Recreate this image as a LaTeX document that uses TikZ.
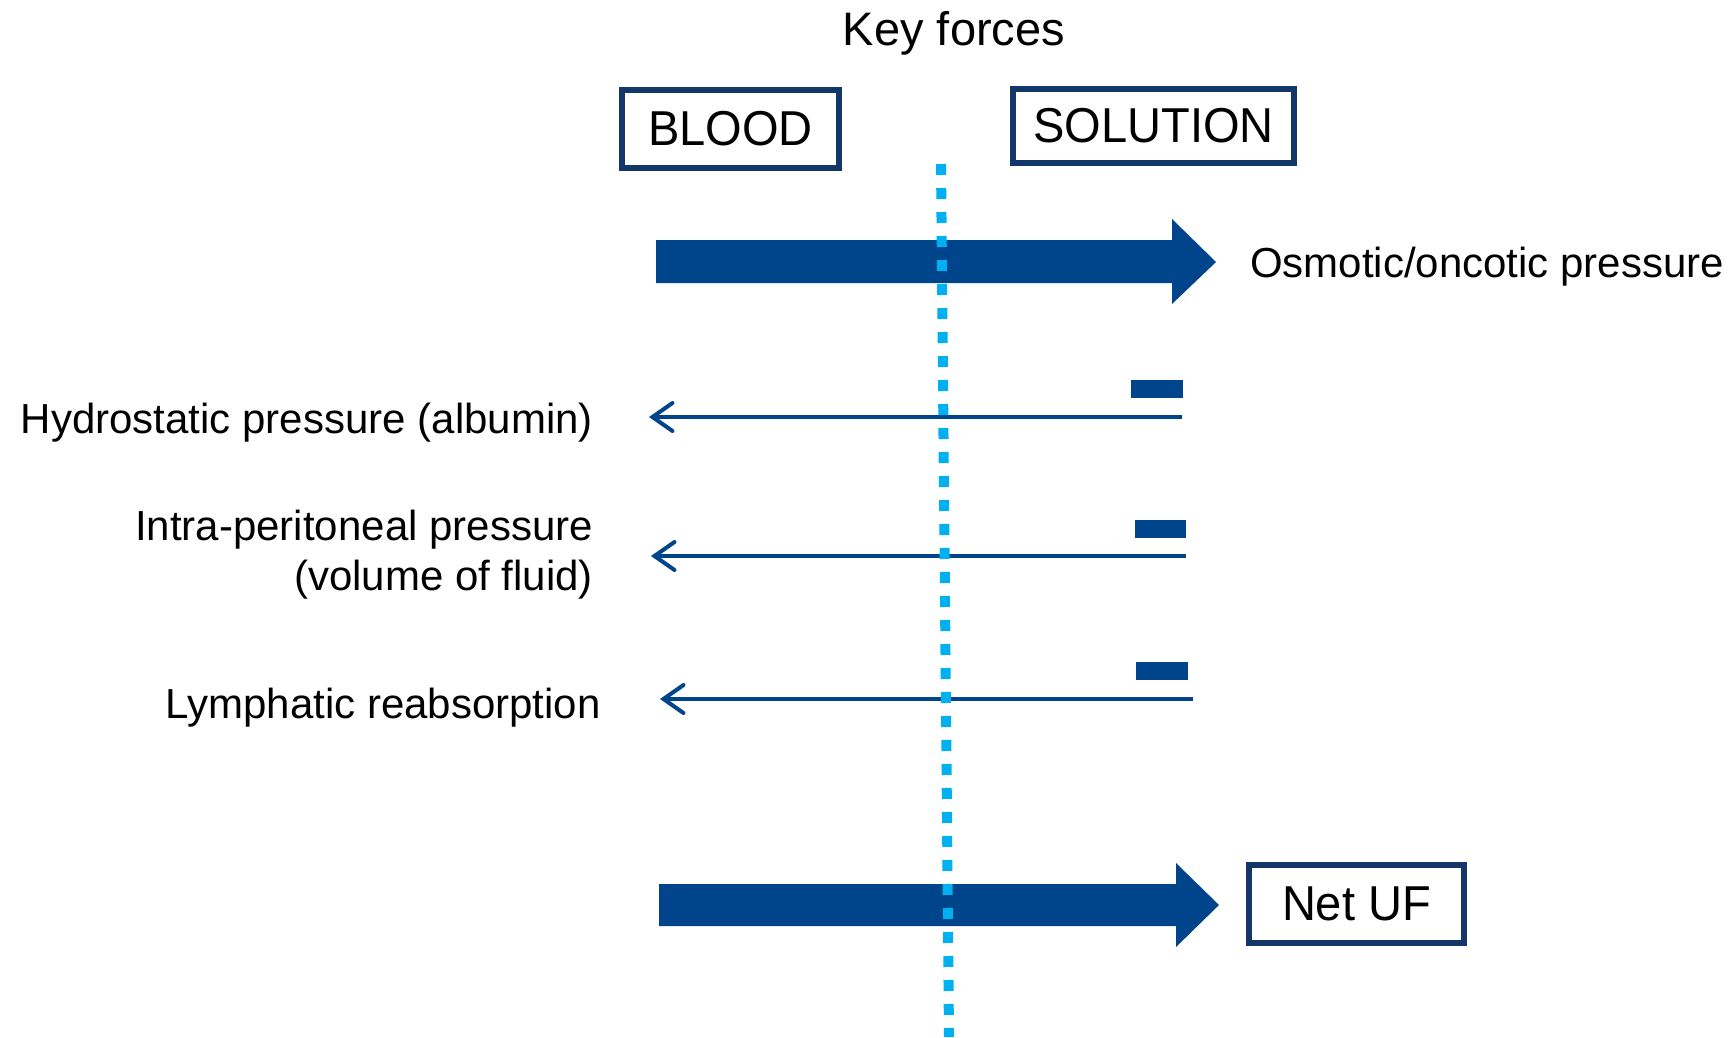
\documentclass[tikz,border=0pt]{standalone}
\usepackage{fontspec}
\setmainfont{Liberation Sans}
\newfontfamily\boxfont{Liberation Sans}[FakeStretch=0.96]
\usetikzlibrary{arrows.meta}
\definecolor{navy}{RGB}{0,69,139}
\definecolor{boxline}{RGB}{20,55,105}
\definecolor{sky}{RGB}{0,176,240}
\begin{document}
\begin{tikzpicture}[x=1pt,y=-1pt,
  box/.style={draw=boxline, line width=6pt, fill=white, inner sep=0pt, font=\boxfont\fontsize{49}{58}\selectfont},
  lbl/.style={font=\fontsize{42}{50}\selectfont, inner sep=0pt},
  ttl/.style={font=\fontsize{47}{56}\selectfont, inner sep=0pt},
  forcearrow/.style={draw=navy, line width=4pt, -{Straight Barb[length=20pt,width=28pt,line cap=round]}},
  bigarrow/.style={fill=navy},
  bar/.style={fill=navy},
  divider/.style={draw=sky, line width=10pt, dash pattern=on 11pt off 13pt}]
\useasboundingbox[fill=white] (0,0) rectangle (1734,1037);

% title and boxes
\node[ttl, anchor=base] (title) at (954,45) {Key forces};
\node[box, minimum width=217pt, minimum height=78pt] (blood) at (730.5,129) {BLOOD};
\node[box, minimum width=281pt, minimum height=74pt] (sol) at (1153.5,126) {SOLUTION};
\node[box, minimum width=215pt, minimum height=78pt] (uf) at (1356.5,904) {Net UF};

% osmotic arrow
\fill[bigarrow] (656,240) -- (1172,240) -- (1172,219) -- (1216,262) -- (1172,304) -- (1172,283) -- (656,283) -- cycle;
\node[lbl, anchor=base west] (osm) at (1250,277) {Osmotic/oncotic pressure};

% hydrostatic
\coordinate (h1s) at (1182,417);
\coordinate (h1e) at (649,417);
\draw[forcearrow] (h1s) -- (h1e);
\fill[bar] (1131,380) rectangle (1183,398);
\node[lbl, anchor=base east] (hyd) at (593,433) {Hydrostatic pressure (albumin)};

% intra-peritoneal
\coordinate (h2s) at (1186,556);
\coordinate (h2e) at (651,556);
\draw[forcearrow] (h2s) -- (h2e);
\fill[bar] (1135,520) rectangle (1186,538);
\node[lbl, anchor=east, align=right] (ipp) at (593,555) {Intra-peritoneal pressure\\(volume of fluid)};

% lymphatic
\coordinate (h3s) at (1193,699);
\coordinate (h3e) at (660,699);
\draw[forcearrow] (h3s) -- (h3e);
\fill[bar] (1136,662) rectangle (1188,680);
\node[lbl, anchor=base east] (lym) at (601,718) {Lymphatic reabsorption};

% net UF arrow
\fill[bigarrow] (659,884) -- (1176,884) -- (1176,863) -- (1219,905) -- (1176,947) -- (1176,926) -- (659,926) -- cycle;

% membrane
\coordinate (mtop) at (941,164);
\coordinate (mbot) at (949,1037);
\draw[divider] (mtop) -- (mbot);
\end{tikzpicture}
\end{document}
